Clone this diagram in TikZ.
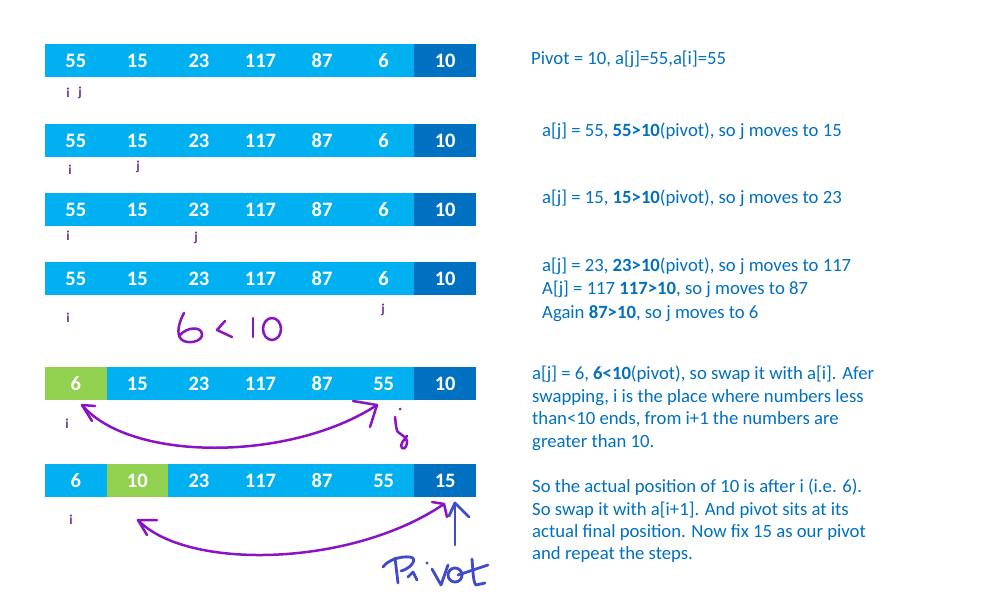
\documentclass[tikz,border=0pt]{standalone}
\usepackage{fontspec}
\setmainfont{Carlito}
\definecolor{lb}{HTML}{00B0F0}
\definecolor{db}{HTML}{0070C0}
\definecolor{gr}{HTML}{92D050}
\definecolor{lbl}{HTML}{7030A0}
\definecolor{hand}{HTML}{8A14C4}
\definecolor{penblue}{HTML}{3F4BCB}
\definecolor{txt}{HTML}{0070C0}
\newcommand{\arow}[3]{\foreach \v/\c [count=\k] in {#3} {\node[cell,fill=\c] (#1c\k) at ({45+(\k-1)*61.57},#2) {\v};}}
\begin{document}
\begin{tikzpicture}[x=1pt,y=-1pt,
 cell/.style={minimum width=61.6pt,minimum height=33pt,inner sep=0pt,outer sep=0pt,text=white,font=\fontsize{20.5}{20.5}\selectfont\bfseries,anchor=north west},
 ptr/.style={text=lbl,font=\fontsize{13.5}{13.5}\selectfont\bfseries,inner sep=0pt},
 note/.style={text=txt,font=\fontsize{18.7}{22.5}\selectfont,anchor=base west,inner sep=0pt},
 pen/.style={draw=hand,line width=2.5pt,line cap=round,line join=round},
 bpen/.style={draw=penblue,line width=2.8pt,line cap=round,line join=round}]
\useasboundingbox (0,0) rectangle (1000,599);
\fill[white] (0,0) rectangle (1000,599);
% rows
\arow{r1}{44}{55/lb,15/lb,23/lb,117/lb,87/lb,6/lb,10/db}
\arow{r2}{124}{55/lb,15/lb,23/lb,117/lb,87/lb,6/lb,10/db}
\arow{r3}{193}{55/lb,15/lb,23/lb,117/lb,87/lb,6/lb,10/db}
\arow{r4}{262}{55/lb,15/lb,23/lb,117/lb,87/lb,6/lb,10/db}
\arow{r5}{367}{6/gr,15/lb,23/lb,117/lb,87/lb,55/lb,10/db}
\arow{r6}{464}{6/lb,10/gr,23/lb,117/lb,87/lb,55/lb,15/db}
% pointers
\node[ptr] (i1) at (68,93) {i};
\node[ptr] (j1) at (80,93) {j};
\node[ptr] (i2) at (70,170) {i};
\node[ptr] (j2) at (138,167) {j};
\node[ptr] (i3) at (68,236) {i};
\node[ptr] (j3) at (196,238) {j};
\node[ptr] (i4) at (68,318) {i};
\node[ptr] (j4) at (383,310) {j};
\node[ptr] (i5) at (67,424) {i};
\node[ptr] (i6) at (71,520) {i};
% notes
\node[note] (n1) at (531,65) {Pivot = 10, a[j]=55,a[i]=55};
\node[note] (n2) at (542,136) {a[j] = 55, \textbf{55>10}(pivot), so j moves to 15};
\node[note] (n3) at (542,203) {a[j] = 15, \textbf{15>10}(pivot), so j moves to 23};
\node[note] (n4a) at (542,271) {a[j] = 23, \textbf{23>10}(pivot), so j moves to 117};
\node[note] (n4b) at (542,294.5) {A[j] = 117 \textbf{117>10}, so j moves to 87};
\node[note] (n4c) at (542,318) {Again \textbf{87>10}, so j moves to 6};
\node[note] (n5a) at (532,379.5) {a[j] = 6, \textbf{6<10}(pivot), so swap it with a[i]. Afer};
\node[note] (n5b) at (532,402) {swapping, i is the place where numbers less};
\node[note] (n5c) at (532,424.5) {than<10 ends, from i+1 the numbers are};
\node[note] (n5d) at (532,447) {greater than 10.};
\node[note] (n6a) at (532,492.5) {So the actual position of 10 is after i (i.e. 6).};
\node[note] (n6b) at (532,515) {So swap it with a[i+1]. And pivot sits at its};
\node[note] (n6c) at (532,537.5) {actual final position. Now fix 15 as our pivot};
\node[note] (n6d) at (532,559.5) {and repeat the steps.};
% handwritten 6<10
\draw[pen] (184,313) .. controls (179,322) and (176,334) .. (181,339) .. controls (186,345) and (203,342) .. (202,334) .. controls (201,326) and (187,327) .. (180,335);
\draw[pen] (225,321) -- (217,330) -- (232,337);
\draw[pen] (253,318) -- (253,337);
\draw[pen] (272,329) ellipse [x radius=9, y radius=11];
% swap arrow row 5
\coordinate (s5a) at (82,405);
\coordinate (s5b) at (377,405);
\draw[pen] (s5a) .. controls (130,462) and (290,462) .. (s5b);
\draw[pen] (95,406) -- (s5a) -- (92,421);
\draw[pen] (353,401) -- (s5b) -- (370,427);
% handwritten j
\fill[hand] (400,409) circle (1.5);
\draw[pen] (395,417) .. controls (396,425) and (396,430) .. (398,432) -- (406,438) .. controls (409,443) and (405,451) .. (402,448) .. controls (399,445) and (404,440) .. (407,436);
% swap arrow row 6
\coordinate (s6a) at (138,520);
\coordinate (s6b) at (444,504);
\draw[pen] (s6a) .. controls (185,570) and (350,568) .. (s6b);
\draw[pen] (157,520) -- (s6a) -- (147,535);
\draw[pen] (432,502) -- (s6b) -- (447,517);
% pivot arrow and word
\coordinate (pv) at (455,503);
\draw[bpen] (455,545) -- (pv);
\draw[bpen] (449,516) -- (pv) -- (469,517);
\draw[bpen] (383,567) .. controls (388,560) and (400,556) .. (410,557) .. controls (418,558) and (412,568) .. (401,571);
\draw[bpen] (395,558) -- (398,583);
\draw[bpen] (408,577) -- (413,572) -- (417,580);
\fill[penblue] (427,563) circle (1.6);
\draw[bpen] (432,569) -- (441,585) -- (448,565);
\draw[bpen] (455,575) circle (7);
\draw[bpen] (472,559) .. controls (473,570) and (473,582) .. (476,585) -- (485,583);
\draw[bpen] (458,575) -- (488,565);
\end{tikzpicture}
\end{document}
